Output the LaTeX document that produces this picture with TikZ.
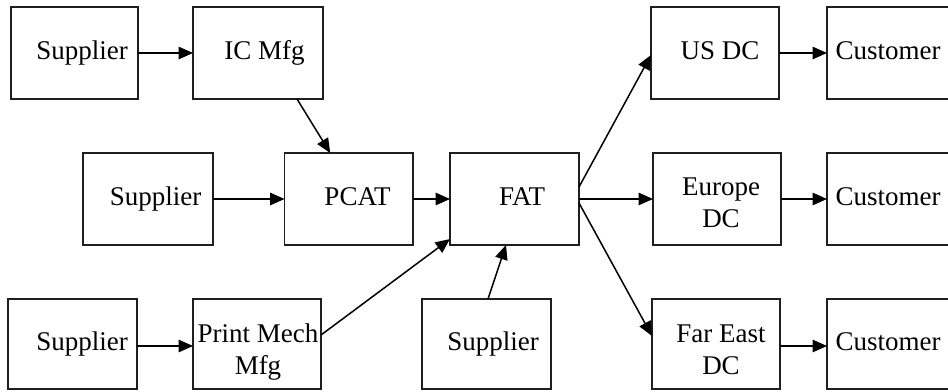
\documentclass[tikz,border=0pt]{standalone}
\usepackage{fontspec}
\setmainfont{Liberation Serif}
\usetikzlibrary{arrows.meta}
\begin{document}
\begin{tikzpicture}[x=1pt,y=-1pt,
  box/.style={draw=black!88, line width=1.7pt, inner sep=0pt, outer sep=0pt, minimum width=128pt, minimum height=92pt},
  lbl/.style={font=\fontsize{27}{32}\selectfont, inner sep=0pt, align=center},
  one/.style={lbl, text height=18.9pt, text depth=5.9pt},
  flow/.style={draw=black, line width=1.5pt, -{Triangle[length=14.5pt,width=12.5pt]}}]
\useasboundingbox (0,0) rectangle (948,391);
\fill[white] (0,0) rectangle (948,391);
% boxes
\node[box,minimum width=127pt,label={[one,xshift=7.5pt]center:Supplier}] (s1) at (74.5,53) {};
\node[box,minimum width=130pt,label={[one,xshift=6.5pt]center:IC Mfg}] (ic) at (258,53) {};
\node[box,minimum width=130pt,label={[one,xshift=7.5pt]center:Supplier}] (s2) at (148,199) {};
\node[box,minimum width=128.5pt,label={[one,xshift=8.75pt]center:PCAT}] (pcat) at (348.75,199) {};
\node[box,minimum width=129pt,label={[one,xshift=7.5pt]center:FAT}] (fat) at (514.5,199) {};
\node[box,minimum width=129pt,minimum height=90pt,label={[one,xshift=9.5pt]center:Supplier}] (s3) at (72.5,344) {};
\node[box,minimum height=90pt,label={[lbl,xshift=1pt,yshift=-8pt]center:{Print Mech\\Mfg}}] (pm) at (257,344) {};
\node[box,minimum width=129pt,minimum height=90pt,label={[one,xshift=6.5pt]center:Supplier}] (s4) at (486.5,344) {};
\node[box,label={[one,xshift=5pt]center:US DC}] (us) at (715,53) {};
\node[box,label={[lbl,xshift=4pt,yshift=-4pt]center:{Europe\\DC}}] (eu) at (717,199) {};
\node[box,minimum height=90pt,label={[lbl,xshift=5pt,yshift=-5.5pt]center:{Far East\\DC}}] (fe) at (716,344) {};
\node[box,minimum width=133pt,label={[one,xshift=-5.5pt]center:Customer}] (c1) at (893.5,53) {};
\node[box,minimum width=133pt,label={[one,xshift=-5.5pt]center:Customer}] (c2) at (893.5,199) {};
\node[box,minimum width=133pt,minimum height=90pt,label={[one,xshift=-5.5pt]center:Customer}] (c3) at (893.5,344) {};
% connectors
\draw[flow] (s1) -- (ic);
\draw[flow] ([xshift=39pt]ic.south) -- ([xshift=-18.5pt]pcat.north);
\draw[flow] (s2) -- (pcat);
\draw[flow] (pcat) -- (fat);
\draw[flow] ([yshift=-2pt]s3.east) -- ([yshift=-2pt]pm.west);
\draw[flow] ([yshift=9pt]pm.east) -- ([yshift=-40pt]fat.west);
\draw[flow] ([xshift=1.5pt]s4.north) -- ([xshift=-8.5pt]fat.south);
\draw[flow] ([yshift=12pt]fat.east) -- ([yshift=-2pt]us.west);
\draw[flow] (fat) -- (eu);
\draw[flow] ([yshift=-4pt]fat.east) -- ([yshift=8pt]fe.west);
\draw[flow] (us) -- (c1);
\draw[flow] (eu) -- (c2);
\draw[flow] ([yshift=-2pt]fe.east) -- ([yshift=-2pt]c3.west);
\end{tikzpicture}
\end{document}
